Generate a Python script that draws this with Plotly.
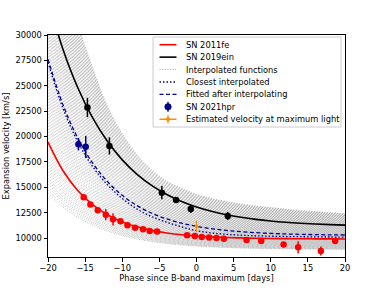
import plotly.graph_objects as go

# ---------------- data ----------------
phase_grid = [-20, -18, -16, -14, -12, -10, -8, -6, -4, -2, 0,
              2, 4, 6, 8, 10, 12, 14, 16, 18, 20]

# SN 2011fe velocity curve
fe_curve = [19440, 16650, 14680, 13280, 12290, 11590, 11100, 10750, 10500, 10320, 10200,
            10110, 10050, 10010, 9975, 9950, 9940, 9925, 9920, 9915, 9910]
# SN 2019ein velocity curve
ein_curve = [33470, 28630, 24830, 21860, 19530, 17700, 16275, 15155, 14280, 13590, 13050,
             12630, 12300, 12040, 11835, 11676, 11550, 11454, 11377, 11317, 11270]
# Fitted after interpolating
fit_curve = [27620, 23165, 19860, 17395, 15565, 14205, 13191, 12437, 11876, 11460, 11150,
             10919, 10748, 10620, 10525, 10455, 10402, 10363, 10334, 10313, 10297]
# Closest interpolated
closest_curve = [27300, 22800, 19500, 17050, 15250, 13900, 12850, 12100, 11550, 11100, 10720,
                 10500, 10370, 10280, 10220, 10180, 10150, 10130, 10110, 10100, 10090]
# Envelope of the interpolated functions
interp_low = [14450, 13086, 12053, 11274, 10685, 10239, 9902, 9648, 9455, 9310, 9200,
              9117, 9054, 9007, 8971, 8944, 8923, 8908, 8896, 8887, 8881]
interp_high = [44000, 37000, 31200, 26800, 23000, 20300, 18200, 16700, 15600, 14900, 14300,
               13900, 13600, 13350, 13150, 13000, 12850, 12700, 12600, 12500, 12400]
n_interp = 100

# SN 2011fe measurements
fe_phase = [-15.19, -14.29, -13.30, -12.22, -11.24, -10.24, -9.30, -8.27, -7.20, -6.30, -5.31,
            -1.27, -0.23, 0.71, 1.70, 2.69, 3.68, 6.74, 8.71, 11.73, 13.69, 16.75, 18.68]
fe_vel = [14010, 13290, 12730, 12300, 11840, 11640, 11250, 11020, 10860, 10690, 10630,
          10270, 10200, 10100, 10040, 10000, 9940, 9800, 9700, 9350, 9080, 8720, 9700]
fe_err = [150, 150, 150, 550, 600, 150, 150, 150, 150, 150, 150,
          150, 150, 150, 150, 150, 150, 200, 200, 250, 600, 450, 200]

# SN 2019ein measurements
ein_phase = [-14.69, -11.73, -4.67, -2.75, -0.77, 4.22]
ein_vel = [22860, 19070, 14470, 13740, 12860, 12170]
ein_err = [950, 850, 650, 150, 400, 400]

# SN 2021hpr measurements
hpr_phase = [-15.9, -14.92]
hpr_vel = [19240, 18980]
hpr_err = [600, 1080]

# Estimated velocity at maximum light
vmax_phase = [0.0]
vmax_vel = [11150]
vmax_err = [550]

x_ticks = [-20, -15, -10, -5, 0, 5, 10, 15, 20]
y_ticks = [10000, 12500, 15000, 17500, 20000, 22500, 25000, 27500, 30000]

legend_labels = ["SN 2011fe", "SN 2019ein", "Interpolated functions", "Closest interpolated",
                 "Fitted after interpolating", "SN 2021hpr", "Estimated velocity at maximum light"]

# ---------------- styles ----------------
FONT = "DejaVu Sans"
FS = 8.3
RED, BLACK, NAVY, ORANGE = "red", "black", "darkblue", "darkorange"
GRAY = "rgba(150,150,150,0.6)"
GRAY_DASH = "1px,1.6px"
DOT_DASH = "1.5px,2px"
DASH_DASH = "4px,2.5px"

fig = go.Figure()

for k in range(n_interp):
    w = k / (n_interp - 1)
    yy = [lo + w * (hi - lo) for lo, hi in zip(interp_low, interp_high)]
    fig.add_trace(go.Scatter(
        x=phase_grid, y=yy, mode="lines", line_shape="spline",
        line=dict(color=GRAY, width=1, dash=GRAY_DASH),
        showlegend=False, hoverinfo="skip"))

fig.add_trace(go.Scatter(x=phase_grid, y=fe_curve, mode="lines", line_shape="spline",
                         line=dict(color=RED, width=1.6), name=legend_labels[0]))
fig.add_trace(go.Scatter(x=phase_grid, y=ein_curve, mode="lines", line_shape="spline",
                         line=dict(color=BLACK, width=1.6), name=legend_labels[1]))
fig.add_trace(go.Scatter(x=phase_grid, y=closest_curve, mode="lines", line_shape="spline",
                         line=dict(color=NAVY, width=1.3, dash=DOT_DASH), name=legend_labels[3]))
fig.add_trace(go.Scatter(x=phase_grid, y=fit_curve, mode="lines", line_shape="spline",
                         line=dict(color=NAVY, width=1.3, dash=DASH_DASH), name=legend_labels[4]))

fig.add_trace(go.Scatter(x=fe_phase, y=fe_vel, mode="markers",
                         marker=dict(color=RED, size=6.5),
                         error_y=dict(type="data", array=fe_err, color=RED, thickness=1.5, width=0)))
fig.add_trace(go.Scatter(x=ein_phase, y=ein_vel, mode="markers",
                         marker=dict(color=BLACK, size=6.5),
                         error_y=dict(type="data", array=ein_err, color=BLACK, thickness=1.5, width=0)))
fig.add_trace(go.Scatter(x=hpr_phase, y=hpr_vel, mode="markers",
                         marker=dict(color=NAVY, size=6.5),
                         error_y=dict(type="data", array=hpr_err, color=NAVY, thickness=1.5, width=0),
                         name=legend_labels[5]))
fig.add_trace(go.Scatter(x=vmax_phase, y=vmax_vel, mode="lines+markers",
                         marker=dict(color=ORANGE, size=3.5),
                         line=dict(color=ORANGE, width=1.5),
                         error_y=dict(type="data", array=vmax_err, color=ORANGE, thickness=1.2, width=0),
                         name=legend_labels[6]))

# ---------------- layout ----------------
W, H = 384, 288
ML, MR, MT, MB = 48, 39, 35, 31
PW, PH = W - ML - MR, H - MT - MB


def px_x(px):
    return (px - ML) / PW


def px_y(py):
    return (H - MB - py) / PH


axis_common = dict(showgrid=False, zeroline=False, showline=True, mirror=True,
                   linecolor="black", linewidth=1, ticks="outside", ticklen=3.5,
                   tickwidth=1, tickcolor="black", tickformat="d",
                   tickfont=dict(family=FONT, size=FS, color="black"))

fig.update_xaxes(range=[-20, 20], tickvals=x_ticks,
                 title=dict(text="Phase since B-band maximum [days]",
                            font=dict(family=FONT, size=FS, color="black"), standoff=2),
                 **axis_common)
fig.update_yaxes(range=[8130, 30000], tickvals=y_ticks,
                 title=dict(text="Expansion velocity [km/s]",
                            font=dict(family=FONT, size=FS, color="black"), standoff=4),
                 **axis_common)

# hand-drawn legend (matplotlib-like compact rows)
shapes = []
annotations = []
box = (153, 37, 341, 127)
shapes.append(dict(type="rect", xref="paper", yref="paper", layer="above",
                   x0=px_x(box[0]), x1=px_x(box[2]), y0=px_y(box[3]), y1=px_y(box[1]),
                   fillcolor="rgba(255,255,255,0.85)", line=dict(color="#cccccc", width=1)))
row_y0, row_dy = 44.7, 12.43
hx0, hx1, hxm, tx = 159.5, 176.5, 168.0, 184.3
handle_styles = [
    ("line", RED, 1.6, "solid"),
    ("line", BLACK, 1.6, "solid"),
    ("line", "rgba(150,150,150,0.8)", 1, GRAY_DASH),
    ("line", NAVY, 1.3, DOT_DASH),
    ("line", NAVY, 1.3, DASH_DASH),
    ("marker", NAVY, 6.5, None),
    ("linemarker", ORANGE, 1.5, None),
]
for i, (label, (kind, col, wd, dash)) in enumerate(zip(legend_labels, handle_styles)):
    yc = row_y0 + i * row_dy
    if kind in ("line", "linemarker"):
        shapes.append(dict(type="line", xref="paper", yref="paper", layer="above",
                           x0=px_x(hx0), x1=px_x(hx1), y0=px_y(yc), y1=px_y(yc),
                           line=dict(color=col, width=wd, dash=dash if dash else "solid")))
    if kind in ("marker", "linemarker"):
        r = 3.3 if kind == "marker" else 1.8
        eb = 5 if kind == "marker" else 4
        shapes.append(dict(type="line", xref="paper", yref="paper", layer="above",
                           x0=px_x(hxm), x1=px_x(hxm), y0=px_y(yc - eb), y1=px_y(yc + eb),
                           line=dict(color=col, width=1.3)))
        shapes.append(dict(type="circle", xref="paper", yref="paper", layer="above",
                           x0=px_x(hxm - r), x1=px_x(hxm + r), y0=px_y(yc + r), y1=px_y(yc - r),
                           fillcolor=col, line=dict(color=col, width=0.5)))
    annotations.append(dict(text=label, xref="paper", yref="paper", x=px_x(tx), y=px_y(yc),
                            xanchor="left", yanchor="middle", showarrow=False,
                            font=dict(family=FONT, size=FS, color="black")))

fig.update_layout(
    width=W, height=H, template="none",
    paper_bgcolor="white", plot_bgcolor="white",
    margin=dict(l=ML, r=MR, t=MT, b=MB, pad=0),
    font=dict(family=FONT, size=FS, color="black"),
    showlegend=False, hovermode=False,
    shapes=shapes, annotations=annotations,
)

fig.write_html("out.html", config={"displayModeBar": False, "staticPlot": True},
               post_script="document.body.style.margin='0px';")
